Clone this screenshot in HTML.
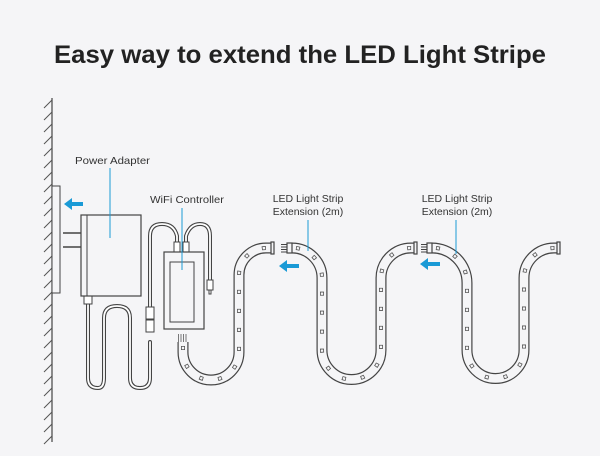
<!DOCTYPE html>
<html><head><meta charset="utf-8"><style>
html,body{margin:0;padding:0;background:#f5f5f7;}
svg{display:block;}
text{font-family:"Liberation Sans",sans-serif;}
</style></head><body>
<svg width="600" height="456" viewBox="0 0 600 456" xmlns="http://www.w3.org/2000/svg">
<rect width="600" height="456" fill="#f5f5f7"/>
<text x="300" y="63" text-anchor="middle" font-size="25" font-weight="bold" fill="#222" textLength="492" lengthAdjust="spacingAndGlyphs">Easy way to extend the LED Light Stripe</text>

<!-- wall -->
<line x1="52" y1="98" x2="52" y2="442" stroke="#444" stroke-width="1.2"/>
<g stroke="#555" stroke-width="1">
<path d="M44 108l8-8M44 120l8-8M44 132l8-8M44 144l8-8M44 156l8-8M44 168l8-8M44 180l8-8M44 192l8-8M44 204l8-8M44 216l8-8M44 228l8-8M44 240l8-8M44 252l8-8M44 264l8-8M44 276l8-8M44 288l8-8M44 300l8-8M44 312l8-8M44 324l8-8M44 336l8-8M44 348l8-8M44 360l8-8M44 372l8-8M44 384l8-8M44 396l8-8M44 408l8-8M44 420l8-8M44 432l8-8M44 444l8-8"/>
</g>
<rect x="52" y="186" width="8" height="107" fill="#f5f5f7" stroke="#444" stroke-width="1"/>

<!-- blue arrows -->
<g fill="#1a9ad6">
<path d="M64 204l8-6v4h11v4h-11v4z"/>
<path d="M279 266l8-6v4h12v4h-12v4z"/>
<path d="M420 264l8-6v4h12v4h-12v4z"/>
</g>

<!-- cables -->
<g fill="none" stroke-linecap="round" stroke-linejoin="round">
<g stroke="#444" stroke-width="4">
<path d="M88 303V378Q88 388 98 388H98Q104 388 104 378V318Q104 306 117 306Q130 306 130 318V378Q130 388 140 388Q150 388 150 378V342"/>
<path d="M150 318V236Q150 224 162 224Q174 224 177 236V244"/>
<path d="M186 244V236Q190 224 200 224Q210 224 210 236V280"/>
</g>
<g stroke="#fff" stroke-width="1.8">
<path d="M88 303V378Q88 388 98 388H98Q104 388 104 378V318Q104 306 117 306Q130 306 130 318V378Q130 388 140 388Q150 388 150 378V342"/>
<path d="M150 318V236Q150 224 162 224Q174 224 177 236V244"/>
<path d="M186 244V236Q190 224 200 224Q210 224 210 236V280"/>
</g>
</g>
<g fill="#fff" stroke="#444" stroke-width="1">
<rect x="84" y="295" width="8" height="9"/>
<rect x="146" y="307" width="8" height="12"/>
<rect x="146" y="320" width="8" height="12"/>
<rect x="174" y="242" width="6" height="10"/>
<rect x="183" y="242" width="6" height="10"/>
<rect x="207" y="280" width="6" height="10"/>
<rect x="209" y="290" width="2" height="4"/>
</g>

<!-- adapter -->
<rect x="81" y="215" width="60" height="81" fill="#f5f5f7" stroke="#444" stroke-width="1.2"/>
<line x1="87" y1="215" x2="87" y2="296" stroke="#444" stroke-width="1"/>
<path d="M63 233H81M63 247H81" stroke="#444" stroke-width="1.5"/>
<text x="75" y="164" font-size="10.5" fill="#333" textLength="75" lengthAdjust="spacingAndGlyphs">Power Adapter</text>
<line x1="110" y1="168" x2="110" y2="238" stroke="#1a9ad6" stroke-width="1"/>

<!-- controller -->
<rect x="164" y="252" width="40" height="77" fill="#f5f5f7" stroke="#444" stroke-width="1.2"/>
<rect x="170" y="262" width="24" height="60" fill="#f5f5f7" stroke="#444" stroke-width="1"/>
<text x="150" y="203" font-size="10.5" fill="#333" textLength="74" lengthAdjust="spacingAndGlyphs">WiFi Controller</text>
<line x1="182" y1="208" x2="182" y2="270" stroke="#1a9ad6" stroke-width="1"/>
<path d="M178.5 334v8M181 334v8M183.5 334v8M186 334v8" stroke="#444" stroke-width="0.7"/>

<!-- strips -->
<g fill="none">
<g stroke="#444" stroke-width="11">
<path d="M183 342V352A28 28 0 0 0 239 352V275A27 27 0 0 1 266 248H272"/>
<path d="M292 248A30 30 0 0 1 322 278V350A29.5 29.5 0 0 0 381 350V278A30 30 0 0 1 411 248H415"/>
<path d="M432 248A35 35 0 0 1 467 283V350A28.5 28.5 0 0 0 524 350V278A30 30 0 0 1 554 248H558"/>
</g>
<g stroke="#f5f5f7" stroke-width="8.6">
<path d="M183 342V352A28 28 0 0 0 239 352V275A27 27 0 0 1 266 248H272"/>
<path d="M292 248A30 30 0 0 1 322 278V350A29.5 29.5 0 0 0 381 350V278A30 30 0 0 1 411 248H415"/>
<path d="M432 248A35 35 0 0 1 467 283V350A28.5 28.5 0 0 0 524 350V278A30 30 0 0 1 554 248H558"/>
</g>
<g stroke="#555" stroke-width="4" stroke-dasharray="4 15">
<path d="M183 346V352A28 28 0 0 0 239 352V275A27 27 0 0 1 266 248H272"/>
<path d="M296 248A30 30 0 0 1 322 278V350A29.5 29.5 0 0 0 381 350V278A30 30 0 0 1 411 248H415"/>
<path d="M436 248A35 35 0 0 1 467 283V350A28.5 28.5 0 0 0 524 350V278A30 30 0 0 1 554 248H558"/>
</g>
<g stroke="#f5f5f7" stroke-width="2.4" stroke-dasharray="2.4 16.6" stroke-dashoffset="-0.8">
<path d="M183 346V352A28 28 0 0 0 239 352V275A27 27 0 0 1 266 248H272"/>
<path d="M296 248A30 30 0 0 1 322 278V350A29.5 29.5 0 0 0 381 350V278A30 30 0 0 1 411 248H415"/>
<path d="M436 248A35 35 0 0 1 467 283V350A28.5 28.5 0 0 0 524 350V278A30 30 0 0 1 554 248H558"/>
</g>
</g>
<!-- end caps & connectors -->
<g stroke="#444" stroke-width="1.2" fill="#f5f5f7">
<rect x="271" y="242" width="3" height="12"/>
<rect x="414" y="242" width="3" height="12"/>
<rect x="557" y="242" width="3" height="12"/>
<rect x="287" y="243" width="5" height="10"/>
<rect x="427" y="243" width="5" height="10"/>
</g>
<path d="M281 244.5h6M281 247h6M281 249.5h6M281 252h6M421 244.5h6M421 247h6M421 249.5h6M421 252h6" stroke="#444" stroke-width="0.9"/>

<!-- labels -->
<text x="308" y="202" font-size="10.5" fill="#333" text-anchor="middle">LED Light Strip</text>
<text x="308" y="215" font-size="10.5" fill="#333" text-anchor="middle">Extension (2m)</text>
<line x1="308" y1="220" x2="308" y2="251" stroke="#1a9ad6" stroke-width="1"/>
<text x="457" y="202" font-size="10.5" fill="#333" text-anchor="middle">LED Light Strip</text>
<text x="457" y="215" font-size="10.5" fill="#333" text-anchor="middle">Extension (2m)</text>
<line x1="456" y1="220" x2="456" y2="254" stroke="#1a9ad6" stroke-width="1"/>
</svg>
</body></html>
